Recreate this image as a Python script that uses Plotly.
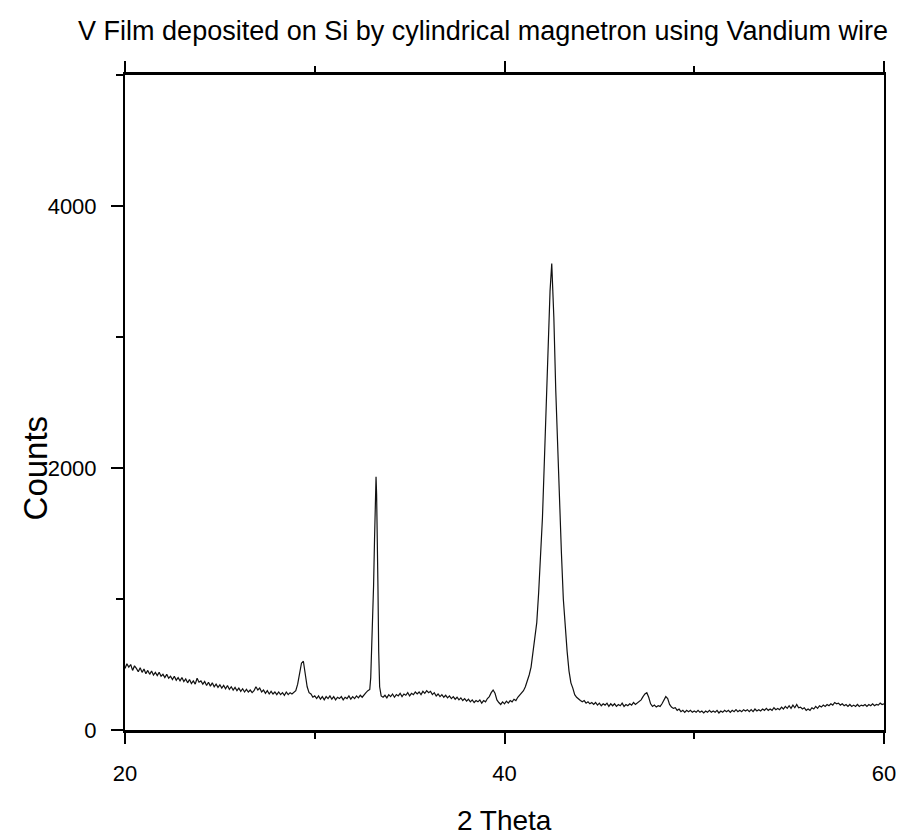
import plotly.graph_objects as go

# 2-theta positions (degrees), rows matched to the counts rows below
two_theta = [
    20.0, 20.1, 20.2, 20.3, 20.4, 20.5, 20.6, 20.7, 20.8, 20.9,
    21.0, 21.1, 21.2, 21.3, 21.4, 21.5, 21.6, 21.7, 21.8, 21.9,
    22.0, 22.1, 22.2, 22.3, 22.4, 22.5, 22.6, 22.7, 22.8, 22.9,
    23.0, 23.1, 23.2, 23.3, 23.4, 23.5, 23.6, 23.7, 23.8, 23.9,
    24.0, 24.1, 24.2, 24.3, 24.4, 24.5, 24.6, 24.7, 24.8, 24.9,
    25.0, 25.1, 25.2, 25.3, 25.4, 25.5, 25.6, 25.7, 25.8, 25.9,
    26.0, 26.1, 26.2, 26.3, 26.4, 26.5, 26.6, 26.7, 26.8, 26.9,
    27.0, 27.1, 27.2, 27.3, 27.4, 27.5, 27.6, 27.7, 27.8, 27.9,
    28.0, 28.1, 28.2, 28.3, 28.4, 28.5, 28.6, 28.7, 28.8, 28.9,
    29.0, 29.1, 29.2, 29.3, 29.4, 29.5, 29.6, 29.7,
    29.8, 29.9,
    30.0, 30.1, 30.2, 30.3, 30.4, 30.5, 30.6, 30.7, 30.8, 30.9,
    31.0, 31.1, 31.2, 31.3, 31.4, 31.5, 31.6, 31.7, 31.8, 31.9,
    32.0, 32.1, 32.2, 32.3, 32.4, 32.5, 32.6, 32.7, 32.8, 32.9,
    32.95, 33.0, 33.05, 33.1, 33.15, 33.2, 33.23, 33.26, 33.3, 33.33, 33.37, 33.42,
    33.5, 33.6, 33.7, 33.8, 33.9,
    34.0, 34.1, 34.2, 34.3, 34.4, 34.5, 34.6, 34.7, 34.8, 34.9,
    35.0, 35.1, 35.2, 35.3, 35.4, 35.5, 35.6, 35.7, 35.8, 35.9,
    36.0, 36.1, 36.2, 36.3, 36.4, 36.5, 36.6, 36.7, 36.8, 36.9,
    37.0, 37.1, 37.2, 37.3, 37.4, 37.5, 37.6, 37.7, 37.8, 37.9,
    38.0, 38.1, 38.2, 38.3, 38.4, 38.5, 38.6, 38.7, 38.8, 38.9,
    39.0, 39.1, 39.2, 39.3, 39.4, 39.5, 39.6, 39.7, 39.8, 39.9,
    40.0, 40.1, 40.2, 40.3, 40.4, 40.5, 40.6, 40.7, 40.8, 40.9,
    41.0, 41.1, 41.2,
    41.3, 41.4, 41.5, 41.6, 41.7, 41.8, 41.9, 42.0, 42.1, 42.2, 42.3,
    42.4, 42.49, 42.6, 42.7, 42.8, 42.9, 43.0, 43.1, 43.2, 43.3, 43.4,
    43.5, 43.6, 43.7, 43.8, 43.9,
    44.0, 44.1, 44.2, 44.3, 44.4, 44.5, 44.6, 44.7, 44.8, 44.9,
    45.0, 45.1, 45.2, 45.3, 45.4, 45.5, 45.6, 45.7, 45.8, 45.9,
    46.0, 46.1, 46.2, 46.3, 46.4, 46.5, 46.6, 46.7, 46.8, 46.9,
    47.0, 47.1, 47.2, 47.3, 47.4, 47.5, 47.6, 47.7, 47.8, 47.9,
    48.0, 48.1, 48.2, 48.3, 48.4, 48.5, 48.6, 48.7, 48.8, 48.9,
    49.0, 49.1, 49.2, 49.3, 49.4, 49.5, 49.6, 49.7, 49.8, 49.9,
    50.0, 50.1, 50.2, 50.3, 50.4, 50.5, 50.6, 50.7, 50.8, 50.9,
    51.0, 51.1, 51.2, 51.3, 51.4, 51.5, 51.6, 51.7, 51.8, 51.9,
    52.0, 52.1, 52.2, 52.3, 52.4, 52.5, 52.6, 52.7, 52.8, 52.9,
    53.0, 53.1, 53.2, 53.3, 53.4, 53.5, 53.6, 53.7, 53.8, 53.9,
    54.0, 54.1, 54.2, 54.3, 54.4, 54.5, 54.6, 54.7, 54.8, 54.9,
    55.0, 55.1, 55.2, 55.3, 55.4, 55.5, 55.6, 55.7, 55.8, 55.9,
    56.0, 56.1, 56.2, 56.3, 56.4, 56.5, 56.6, 56.7, 56.8, 56.9,
    57.0, 57.1, 57.2, 57.3, 57.4, 57.5, 57.6, 57.7, 57.8, 57.9,
    58.0, 58.1, 58.2, 58.3, 58.4, 58.5, 58.6, 58.7, 58.8, 58.9,
    59.0, 59.1, 59.2, 59.3, 59.4, 59.5, 59.6, 59.7, 59.8, 59.9,
    60.0,
]

counts = [
    470, 505, 480, 500, 455, 490, 470, 445, 475, 440,
    465, 430, 455, 425, 450, 420, 440, 415, 440, 410,
    425, 400, 425, 395, 410, 385, 410, 380, 400, 375,
    400, 370, 390, 360, 385, 355, 375, 350, 395, 365,
    375, 350, 370, 340, 365, 335, 360, 330, 350, 325,
    345, 320, 340, 315, 340, 310, 330, 305, 325, 300,
    320, 295, 315, 290, 310, 290, 305, 285, 300, 330,
    305, 320, 290, 305, 280, 300, 275, 295, 275, 290,
    270, 290, 270, 285, 265, 290, 270, 285, 275, 290,
    300, 350, 430, 510, 525, 440, 330, 285,
    275, 250,
    260, 240, 260, 235, 255, 230, 255, 240, 260, 235,
    255, 230, 250, 240, 255, 230, 250, 240, 260, 235,
    255, 240, 260, 245, 265, 250, 270, 285, 300, 310,
    400, 600, 800, 1100, 1450, 1850, 1934, 1800, 1500, 1100, 600, 330,
    260, 250, 265, 245, 270,
    255, 275, 250, 270, 260, 280, 255, 275, 265, 285,
    260, 280, 270, 290, 275, 290, 270, 295, 280, 300,
    285, 295, 270, 285, 260, 275, 255, 270, 250, 265,
    245, 260, 240, 255, 235, 250, 230, 245, 225, 240,
    220, 235, 215, 230, 210, 225, 215, 230, 205, 225,
    215, 240, 255, 285, 305, 280, 230, 210, 195, 215,
    200, 220, 205, 225, 215, 235, 225, 250, 265, 280,
    300, 330, 370,
    420, 480, 580, 690, 820, 1050, 1300, 1620, 2050, 2500, 2950,
    3350, 3560, 3150, 2600, 2150, 1750, 1350, 1000, 780, 600, 450,
    360, 320, 270, 250, 235,
    225, 215, 225, 205, 215, 200, 210, 195, 210, 190,
    205, 185, 200, 190, 205, 180, 200, 185, 200, 180,
    195, 185, 205, 180, 195, 185, 200, 190, 210, 195,
    205, 215, 230, 255, 275, 285, 250, 200, 180, 190,
    175, 185, 180, 200, 230, 255, 240, 195, 175, 165,
    170, 150, 160, 140, 150, 135, 150, 140, 150, 135,
    145, 135, 150, 135, 145, 130, 145, 135, 150, 135,
    145, 135, 150, 130, 145, 135, 150, 140, 150, 135,
    150, 140, 155, 140, 150, 140, 155, 145, 155, 140,
    155, 140, 160, 145, 155, 145, 160, 150, 165, 150,
    160, 150, 170, 155, 165, 155, 175, 160, 180, 165,
    185, 165, 190, 170, 195, 170, 175, 160, 170, 150,
    160, 150, 170, 160, 180, 165, 185, 175, 190, 180,
    195, 185, 200, 190, 210, 200, 205, 190, 200, 185,
    195, 180, 195, 180, 190, 180, 195, 180, 190, 185,
    195, 180, 195, 185, 200, 185, 195, 190, 205, 195,
    200,
]

x_major_ticks = [20, 40, 60]
y_major_ticks = [0, 2000, 4000]

title_text = "V Film deposited on Si by cylindrical magnetron using Vandium wire"
x_title = "2 Theta"
y_title = "Counts"

font_main = "Liberation Sans, Arial, sans-serif"

fig = go.Figure()
fig.add_trace(go.Scatter(
    x=two_theta, y=counts, mode="lines",
    line=dict(color="#111111", width=1.2),
    showlegend=False, hoverinfo="skip",
))

fig.update_layout(
    width=908, height=835,
    margin=dict(l=125, r=18, t=75, b=105),
    paper_bgcolor="white", plot_bgcolor="white",
    title=dict(text=title_text, x=0.532, xref="container", xanchor="center",
               y=0.964, yref="container", yanchor="middle",
               font=dict(family=font_main, size=27, color="black")),
    xaxis=dict(
        range=[20, 60], tickvals=x_major_ticks, ticktext=[str(v) for v in x_major_ticks],
        ticks="outside", ticklen=11, tickwidth=1.5, tickcolor="black",
        minor=dict(dtick=10, tick0=20, ticks="outside", ticklen=6, tickwidth=1.5, tickcolor="black"),
        showline=True, linewidth=3, linecolor="black", mirror="ticks",
        showgrid=False, zeroline=False, ticklabelstandoff=11,
        tickfont=dict(family=font_main, size=22, color="black"),
    ),
    yaxis=dict(
        range=[0, 5000], tickvals=y_major_ticks, ticktext=[str(v) for v in y_major_ticks],
        ticks="outside", ticklen=12, tickwidth=1.5, tickcolor="black",
        minor=dict(dtick=1000, tick0=0, ticks="outside", ticklen=7, tickwidth=1.5, tickcolor="black"),
        showline=True, linewidth=2, linecolor="black", mirror=True,
        showgrid=False, zeroline=False, ticklabelstandoff=10,
        tickfont=dict(family=font_main, size=22, color="black"),
    ),
    annotations=[
        dict(text=x_title, xref="paper", yref="paper", x=0.5, y=-0.138,
             xanchor="center", yanchor="middle", showarrow=False,
             font=dict(family=font_main, size=28, color="black")),
        dict(text=y_title, xref="paper", yref="paper", x=-0.118, y=0.4,
             xanchor="center", yanchor="middle", showarrow=False, textangle=-90,
             font=dict(family=font_main, size=33, color="black")),
    ],
)

fig.write_html("out.html")
